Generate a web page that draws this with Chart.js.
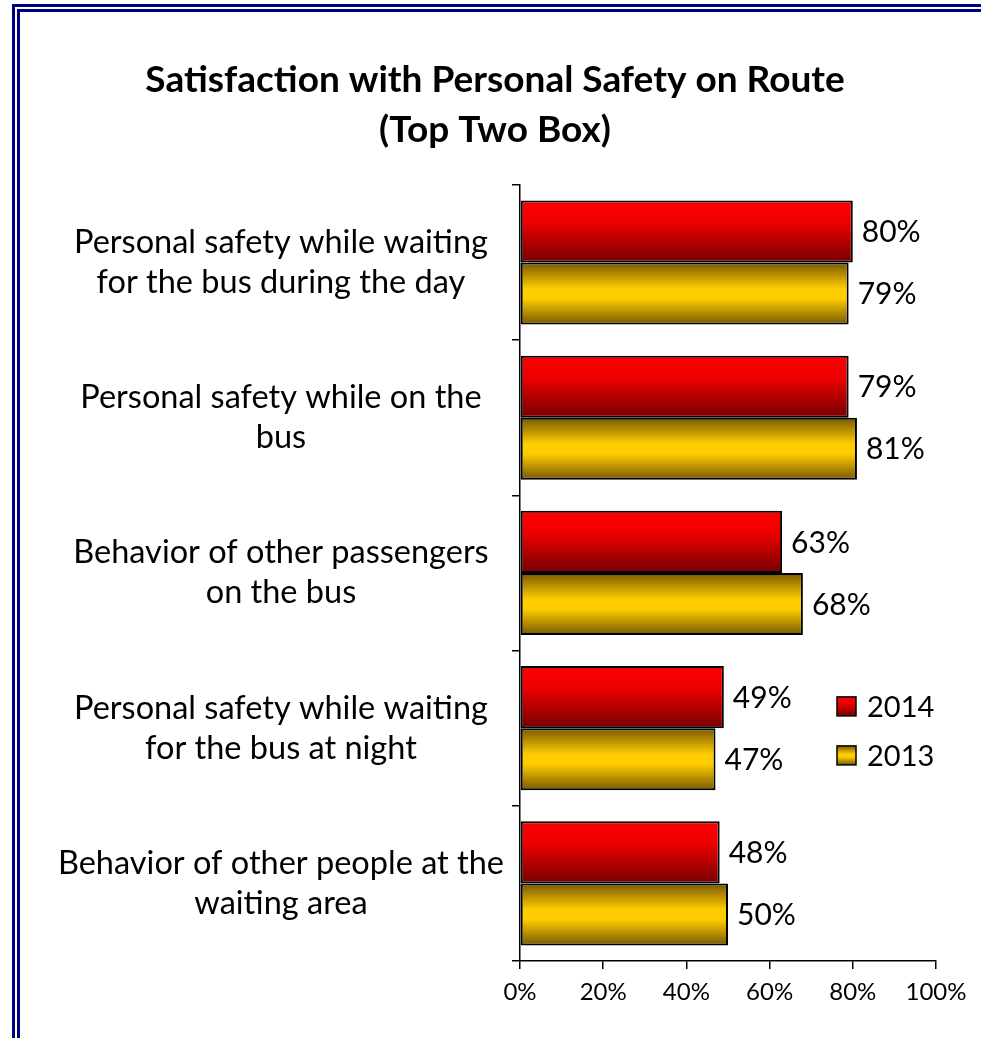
<!DOCTYPE html>
<html>
<head>
<meta charset="utf-8">
<script src="https://cdn.jsdelivr.net/npm/chart.js@4.4.0/dist/chart.umd.min.js"></script>
<style>
    html, body { margin: 0; padding: 0; background: #fff; overflow: hidden; }
    #wrap { position: relative; width: 981px; height: 1038px; }
    .frame { position: absolute; border: 3px solid #000080; border-bottom: none; height: 2000px; width: 2000px; }
    #outer { left: 12px; top: 4px; }
    #inner { left: 17px; top: 9px; }
    canvas { position: absolute; left: 0; top: 0; }
</style>
</head>
<body>
<div id="wrap">
    <div class="frame" id="outer"></div>
    <div class="frame" id="inner"></div>
    <canvas id="safetyChart" width="981" height="1038"></canvas>
</div>
<script>
// Chart data
const categories = [
    ['Personal safety while waiting', 'for the bus during the day'],
    ['Personal safety while on the', 'bus'],
    ['Behavior of other passengers', 'on the bus'],
    ['Personal safety while waiting', 'for the bus at night'],
    ['Behavior of other people at the', 'waiting area']
];
const seriesNames = ['2014', '2013'];
const values2014 = [80, 79, 63, 49, 48];
const values2013 = [79, 81, 68, 47, 50];
const xTickValues = [0, 20, 40, 60, 80, 100];

const FONT = "Lato, 'Open Sans', sans-serif";

// Gradient stops per series (top -> bottom of a bar)
const redStops = [[0, '#ff0000'], [0.35, '#ee0000'], [1, '#760000']];
const goldStops = [[0, '#765800'], [0.42, '#ffcc00'], [0.58, '#ffcc00'], [1, '#765800']];

function makeGradient(ctx, top, height, stops) {
    const g = ctx.createLinearGradient(0, top, 0, top + height);
    stops.forEach(s => g.addColorStop(s[0], s[1]));
    return g;
}

// Scriptable bar fill: gradient follows each bar's own position
function barFill(stops, fallback) {
    return function(c) {
        const chart = c.chart;
        const yScale = chart.scales.y;
        if (!yScale || c.dataIndex === undefined || !chart.chartArea) return fallback;
        const center = yScale.getPixelForValue(c.dataIndex);
        const band = (yScale.height / categories.length) * 0.8;
        const half = band / 2;
        const top = c.datasetIndex === 0 ? center - half : center;
        return makeGradient(chart.ctx, top, half, stops);
    };
}

// Value labels at the end of each bar
const valueLabels = {
    id: 'valueLabels',
    afterDatasetsDraw(chart) {
        const ctx = chart.ctx;
        ctx.save();
        ctx.font = '30px ' + FONT;
        ctx.fillStyle = '#000';
        ctx.textAlign = 'left';
        ctx.textBaseline = 'middle';
        chart.data.datasets.forEach((ds, di) => {
            chart.getDatasetMeta(di).data.forEach((bar, i) => {
                ctx.fillText(ds.data[i] + '%', bar.x + 9, bar.y + 1);
            });
        });
        ctx.restore();
    }
};

// Legend drawn inside the plot, lower right
const insideLegend = {
    id: 'insideLegend',
    afterDraw(chart) {
        const ctx = chart.ctx;
        const area = chart.chartArea;
        const x = area.left + 317;
        let y = area.top + 512;
        ctx.save();
        ctx.font = '29px ' + FONT;
        ctx.textBaseline = 'middle';
        ctx.textAlign = 'left';
        chart.data.datasets.forEach((ds, di) => {
            const stops = di === 0 ? redStops : goldStops;
            ctx.fillStyle = makeGradient(ctx, y, 19, stops);
            ctx.fillRect(x, y, 19, 19);
            ctx.lineWidth = 1.5;
            ctx.strokeStyle = '#000';
            ctx.strokeRect(x, y, 19, 19);
            ctx.fillStyle = '#000';
            ctx.fillText(ds.label, x + 30, y + 11);
            y += 49;
        });
        ctx.restore();
    }
};

function initSafetyChart() {
    const ctx = document.getElementById('safetyChart').getContext('2d');

    new Chart(ctx, {
        type: 'bar',
        data: {
            labels: categories,
            datasets: [{
                label: seriesNames[0],
                data: values2014,
                backgroundColor: barFill(redStops, '#d00000'),
                borderColor: '#000',
                borderWidth: 2,
                borderSkipped: false
            }, {
                label: seriesNames[1],
                data: values2013,
                backgroundColor: barFill(goldStops, '#e0b000'),
                borderColor: '#000',
                borderWidth: 2,
                borderSkipped: false
            }]
        },
        options: {
            indexAxis: 'y',
            responsive: false,
            animation: false,
            datasets: {
                bar: {
                    categoryPercentage: 0.8,
                    barPercentage: 1
                }
            },
            layout: {
                padding: { top: 55, right: 45, bottom: 27, left: 54 }
            },
            plugins: {
                legend: { display: false },
                tooltip: { enabled: false },
                title: {
                    display: true,
                    text: ['Satisfaction with Personal Safety on Route', '(Top Two Box)'],
                    color: '#000',
                    font: { family: FONT, size: 37, weight: 'bold', lineHeight: 1.35 },
                    padding: { top: 0, bottom: 30 }
                }
            },
            scales: {
                x: {
                    min: 0,
                    max: 100,
                    afterBuildTicks(scale) {
                        scale.ticks = xTickValues.map(v => ({ value: v }));
                    },
                    afterFit(scale) { scale.height = 50; },
                    ticks: {
                        callback: v => v + '%',
                        color: '#000',
                        padding: 9,
                        font: { family: FONT, size: 24 }
                    },
                    grid: {
                        drawOnChartArea: false,
                        drawTicks: true,
                        tickLength: 8,
                        color: '#000',
                        lineWidth: 1.5
                    },
                    border: { color: '#000', width: 1.5 }
                },
                y: {
                    afterFit(scale) { scale.width = 466; },
                    ticks: {
                        crossAlign: 'center',
                        color: '#000',
                        padding: 8,
                        font: { family: FONT, size: 32.5, lineHeight: 1.23 }
                    },
                    grid: {
                        offset: true,
                        drawOnChartArea: false,
                        tickLength: 8,
                        color: '#000',
                        lineWidth: 1.5
                    },
                    border: { color: '#000', width: 1.5 }
                }
            }
        },
        plugins: [valueLabels, insideLegend]
    });
}

document.addEventListener('DOMContentLoaded', initSafetyChart);
</script>
</body>
</html>
